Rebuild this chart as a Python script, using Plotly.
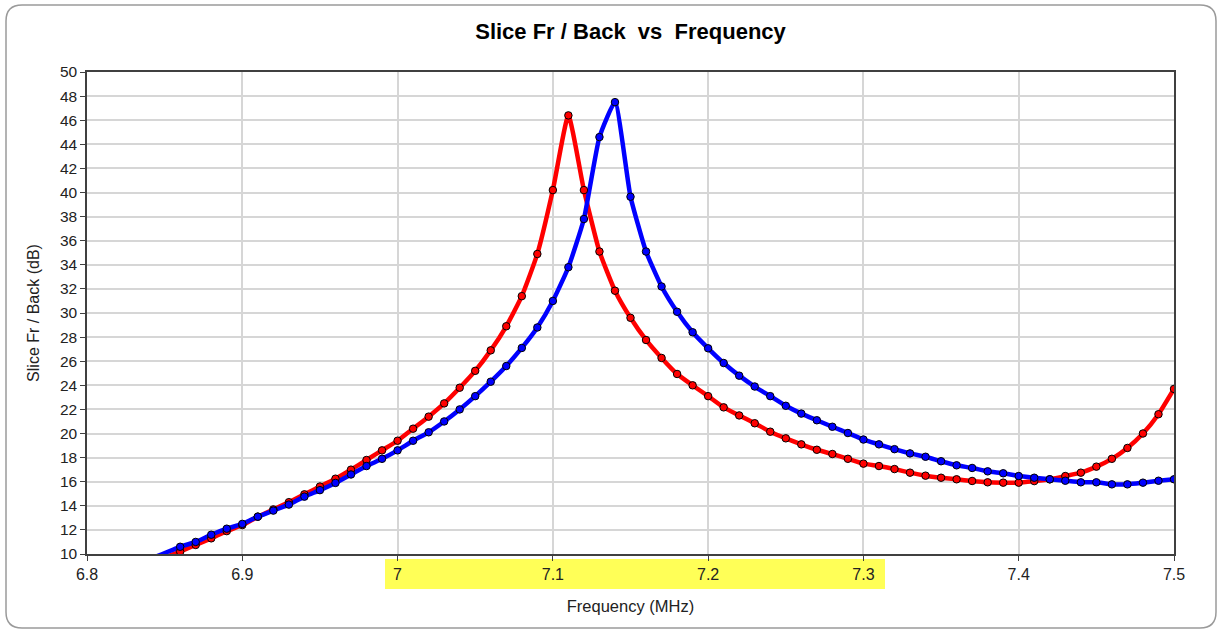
import plotly.graph_objects as go

# ---------------- data ----------------
freq = [6.86, 6.87, 6.88, 6.89, 6.90, 6.91, 6.92, 6.93, 6.94, 6.95, 6.96, 6.97, 6.98, 6.99,
        7.00, 7.01, 7.02, 7.03, 7.04, 7.05, 7.06, 7.07, 7.08, 7.09,
        7.10, 7.11, 7.12, 7.13, 7.14, 7.15, 7.16, 7.17, 7.18, 7.19,
        7.20, 7.21, 7.22, 7.23, 7.24, 7.25, 7.26, 7.27, 7.28, 7.29,
        7.30, 7.31, 7.32, 7.33, 7.34, 7.35, 7.36, 7.37, 7.38, 7.39,
        7.40, 7.41, 7.42, 7.43, 7.44, 7.45, 7.46, 7.47, 7.48, 7.49, 7.50]

red_fb = [10.2, 10.75, 11.3, 11.9, 12.4, 13.1, 13.7, 14.3, 14.95, 15.6, 16.25, 17.0, 17.8, 18.6,
          19.4, 20.4, 21.4, 22.5, 23.8, 25.2, 26.9, 28.9, 31.4, 34.9,
          40.2, 46.4, 40.2, 35.1, 31.85, 29.6, 27.76, 26.27, 24.94, 24.0,
          23.1, 22.17, 21.5, 20.85, 20.15, 19.6, 19.1, 18.65, 18.3, 17.9,
          17.5, 17.3, 17.05, 16.75, 16.5, 16.33, 16.2, 16.06, 15.95, 15.92,
          15.92, 16.05, 16.2, 16.47, 16.75, 17.25, 17.9, 18.8, 20.0, 21.6, 23.7]

blue_fb = [10.6, 11.0, 11.6, 12.1, 12.5, 13.1, 13.6, 14.1, 14.76, 15.3, 15.9, 16.6, 17.3, 17.9,
           18.6, 19.4, 20.1, 21.0, 22.0, 23.1, 24.3, 25.6, 27.1, 28.8,
           31.0, 33.8, 37.8, 44.6, 47.5, 39.65, 35.1, 32.2, 30.1, 28.4,
           27.07, 25.85, 24.8, 23.9, 23.1, 22.3, 21.65, 21.1, 20.56, 20.04,
           19.5, 19.1, 18.7, 18.35, 18.07, 17.7, 17.36, 17.14, 16.86, 16.7,
           16.47, 16.33, 16.2, 16.08, 15.95, 15.95, 15.78, 15.78, 15.92, 16.08, 16.2]

# leading points below the axis minimum (line only, marker clipped away)
red_lead_freq = [6.85]
red_lead_fb = [9.7]
blue_lead_freq = [6.84]
blue_lead_fb = [9.55]

x_tickvals = [6.8, 6.9, 7.0, 7.1, 7.2, 7.3, 7.4, 7.5]
x_ticktext = ["6.8", "6.9", "7", "7.1", "7.2", "7.3", "7.4", "7.5"]
y_tickvals = list(range(10, 51, 2))

# ---------------- layout geometry ----------------
W, H = 1219, 630
ML, MR, MT, MB = 87, 45, 72, 76
PW, PH = W - ML - MR, H - MT - MB


def px(x):
    return (x - ML) / PW


def py(y):
    return (H - MB - y) / PH


fig = go.Figure()

for lf, lv, xs, ys, col in [(red_lead_freq, red_lead_fb, freq, red_fb, "#FF0000"),
                            (blue_lead_freq, blue_lead_fb, freq, blue_fb, "#0000FF")]:
    fig.add_trace(go.Scatter(x=lf + xs, y=lv + ys, mode="lines",
                             line=dict(color=col, width=4.5, shape="spline", smoothing=0.45),
                             hoverinfo="skip", showlegend=False))
for xs, ys, col in [(freq, red_fb, "#FF0000"), (freq, blue_fb, "#0000FF")]:
    fig.add_trace(go.Scatter(x=xs, y=ys, mode="markers",
                             marker=dict(color=col, size=7.5, line=dict(color="#000000", width=1)),
                             showlegend=False))

font_family = "Liberation Sans, Arial, sans-serif"

# rounded chart border
L, R, T, B, r = 6, 1216, 5, 628, 16
path = (f"M {px(L + r)},{py(T)} L {px(R - r)},{py(T)} Q {px(R)},{py(T)} {px(R)},{py(T + r)} "
        f"L {px(R)},{py(B - r)} Q {px(R)},{py(B)} {px(R - r)},{py(B)} "
        f"L {px(L + r)},{py(B)} Q {px(L)},{py(B)} {px(L)},{py(B - r)} "
        f"L {px(L)},{py(T + r)} Q {px(L)},{py(T)} {px(L + r)},{py(T)} Z")

shapes = [
    dict(type="path", xref="paper", yref="paper", path=path,
         line=dict(color="#9a9a9a", width=1.5), layer="below"),
    dict(type="rect", xref="paper", yref="paper",
         x0=px(385), x1=px(885), y0=py(589), y1=py(559),
         fillcolor="#FFFF57", line=dict(width=0), layer="below"),
]

fig.update_layout(
    width=W, height=H,
    margin=dict(l=ML, r=MR, t=MT, b=MB),
    paper_bgcolor="white", plot_bgcolor="white",
    font=dict(family=font_family, size=14, color="#222222"),
    title=dict(text="<b>Slice Fr / Back  vs  Frequency</b>", x=0.5, xref="paper",
               y=1 - 31 / H, yanchor="middle", yref="container",
               font=dict(family=font_family, size=22, color="#000000")),
    shapes=shapes,
    xaxis=dict(range=[6.8, 7.5], tickvals=x_tickvals, ticktext=x_ticktext,
               showgrid=True, gridcolor="#d6d6d6", gridwidth=1.5,
               showline=True, linecolor="#404040", linewidth=1.5, mirror=True,
               ticks="outside", ticklen=5, tickcolor="#404040",
               tickfont=dict(size=16, color="#222222"), zeroline=False,
               title=dict(text="Frequency (MHz)", standoff=18,
                          font=dict(size=16.5, color="#222222"))),
    yaxis=dict(range=[10, 50], tickvals=y_tickvals,
               showgrid=True, gridcolor="#d6d6d6", gridwidth=1.5,
               showline=True, linecolor="#404040", linewidth=1.5, mirror=True,
               ticks="outside", ticklen=5, tickcolor="#404040",
               tickfont=dict(size=15.5, color="#222222"), zeroline=False,
               title=dict(text="Slice Fr / Back (dB)", standoff=16,
                          font=dict(size=16, color="#222222"))),
)

fig.write_html("out.html")
